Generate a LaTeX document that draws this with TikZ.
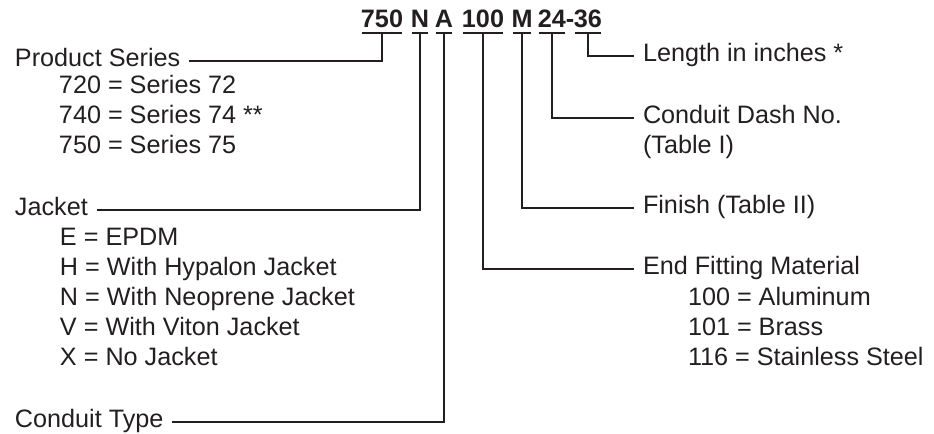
\documentclass[tikz,border=0pt]{standalone}
\usepackage{fontspec}
\setmainfont{Liberation Sans}
\definecolor{ink}{RGB}{35,31,32}
\newcommand{\codefield}[3]{\node[code] (#1) at (#2,27) {#3};
  \draw ([xshift=1pt,yshift=-3pt]#1.base west) -- ([xshift=-1pt,yshift=-3pt]#1.base east);
  \coordinate (#1u) at ([yshift=-3pt]#1.base);}
\tikzset{
  code/.style={font=\fontsize{12.6pt}{15pt}\selectfont\bfseries, anchor=base, inner sep=0pt},
  lefttag/.style={anchor=base west, inner xsep=4pt, inner ysep=0pt},
  righttag/.style={anchor=base west, inner xsep=4pt, inner ysep=0pt},
  item/.style={anchor=base west, inner sep=0pt}
}

\begin{document}
\begin{tikzpicture}[x=0.5pt, y=-0.5pt, color=ink, line width=1pt,
    font=\fontsize{12.6pt}{15pt}\selectfont]
    \useasboundingbox (0,0) rectangle (934,434);
    % part number
    \codefield{c750}{382}{750}
    \codefield{cN}{420}{N}
    \codefield{cA}{444}{A}
    \codefield{c100}{483}{100}
    \codefield{cM}{522}{M}
    \codefield{c24}{552}{24}
    \node[code] (hyph) at (570,27) {-};
    \codefield{c36}{588}{36}
    % left side
    \node[lefttag] (ps) at (6,66) {Product Series};
    \foreach \txt [count=\i] in {720 = Series 72, 740 = Series 74 **, 750 = Series 75}
        \node[item] (ps\i) at (58,{63+30*\i}) {\txt};
    \node[lefttag] (jk) at (6,215) {Jacket};
    \foreach \txt [count=\i] in {E = EPDM, H = With Hypalon Jacket, N = With Neoprene Jacket, V = With Viton Jacket, X = No Jacket}
        \node[item] (jk\i) at (59,{215+30*\i}) {\txt};
    \node[lefttag] (ct) at (6,427) {Conduit Type};
    % right side
    \node[righttag] (len) at (634,61.5) {Length in inches *};
    \node[righttag] (dash) at (634,123) {Conduit Dash No.};
    \node[righttag] (dashb) at (634,153) {(Table I)};
    \node[righttag] (fin) at (634,213) {Finish (Table II)};
    \node[righttag] (efm) at (634,274) {End Fitting Material};
    \foreach \txt [count=\i] in {100 = Aluminum, 101 = Brass, 116 = Stainless Steel}
        \node[item] (efm\i) at (687,{275+30*\i}) {\txt};
    % leaders
    \draw (c750u) |- (ps.mid east);
    \draw (cNu) |- (jk.mid east);
    \draw (cAu) |- (ct.mid east);
    \draw (c100u) |- (efm.mid west);
    \draw (cMu) |- (fin.mid west);
    \draw (c24u) |- (dash.mid west);
    \draw (c36u) |- (len.mid west);
\end{tikzpicture}
\end{document}
